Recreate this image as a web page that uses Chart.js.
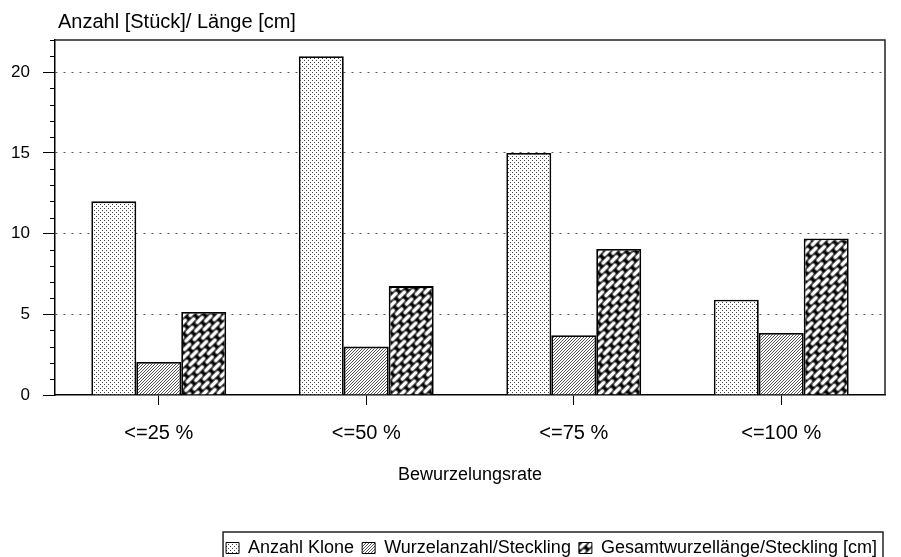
<!DOCTYPE html>
<html>
<head>
<meta charset="utf-8">
<script src="https://cdn.jsdelivr.net/npm/chart.js@4"></script>
<style>
  html, body { margin: 0; padding: 0; background: #fff; }
  #chart { display: block; }
</style>
</head>
<body>
<canvas id="chart" width="901" height="557"></canvas>
<script>
// --- DATA ---
const categories = ['<=25 %', '<=50 %', '<=75 %', '<=100 %'];
const seriesNames = ['Anzahl Klone', 'Wurzelanzahl/Steckling', 'Gesamtwurzellänge/Steckling [cm]'];
const anzahlKlone = [12, 21, 15, 5.9];
const wurzelanzahl = [2.05, 3.0, 3.7, 3.85];
const gesamtlaenge = [5.15, 6.75, 9.05, 9.7];
const yLabelStep = 5;
const yMax = 22;

const FONT = "'Liberation Sans', Arial, Helvetica, sans-serif";

// --- PATTERNS ---
function makePattern(w, h, drawTile, matrix) {
    const c = document.createElement('canvas');
    c.width = w; c.height = h;
    const g = c.getContext('2d');
    drawTile(g, w, h);
    const p = g.createPattern(c, 'repeat');
    if (matrix) p.setTransform(matrix);
    return p;
}

const dotFill = makePattern(4, 4, (g, w, h) => {
    g.fillStyle = '#fff';
    g.fillRect(0, 0, w, h);
    g.fillStyle = '#444';
    g.fillRect(0, 0, 1, 1);
    g.fillRect(2, 2, 1, 1);
});

const hatchFill = makePattern(3, 3, (g, w, h) => {
    g.fillStyle = '#fff';
    g.fillRect(0, 0, w, h);
    g.strokeStyle = '#555';
    g.lineWidth = 1;
    g.beginPath();
    for (const o of [-w, 0, w]) {
        g.moveTo(-1 + o, h + 1); g.lineTo(w + 1 + o, -1);
    }
    g.stroke();
});

// brick-laid capsules, turned 45 degrees -> chain / weave look
const weaveFill = makePattern(14, 10, (g, w, h) => {
    g.fillStyle = '#000';
    g.fillRect(0, 0, w, h);
    g.lineCap = 'round';
    const links = [[2.5, 2.5, 9.5], [9.5, 7.5, 16.5], [-4.5, 7.5, 2.5]];
    for (const [lw, col] of [[4.6, '#777'], [3.0, '#fff']]) {
        g.strokeStyle = col;
        g.lineWidth = lw;
        g.beginPath();
        for (const [x0, y, x1] of links) {
            for (const oy of [-h, 0, h]) {
                g.moveTo(x0, y + oy); g.lineTo(x1, y + oy);
            }
        }
        g.stroke();
    }
}, new DOMMatrix().rotateSelf(-45));

const fills = [dotFill, hatchFill, weaveFill];

// --- EXTRA DRAWING: frame, minor ticks, y caption, legend border ---
const decorPlugin = {
    id: 'decor',
    afterDraw(chart) {
        const { ctx, chartArea: a, scales } = chart;
        ctx.save();
        // frame top + right
        ctx.strokeStyle = '#222';
        ctx.lineWidth = 1.5;
        ctx.beginPath();
        ctx.moveTo(a.left, a.top); ctx.lineTo(a.right, a.top); ctx.lineTo(a.right, a.bottom);
        ctx.stroke();
        // minor ticks on y axis
        ctx.lineWidth = 1;
        ctx.strokeStyle = '#000';
        ctx.beginPath();
        for (let v = 1; v <= yMax; v++) {
            if (v % yLabelStep === 0) continue;
            const y = Math.round(scales.y.getPixelForValue(v)) + 0.5;
            ctx.moveTo(a.left - 5, y); ctx.lineTo(a.left, y);
        }
        ctx.stroke();
        // y caption
        ctx.fillStyle = '#000';
        ctx.font = '20px ' + FONT;
        ctx.textBaseline = 'alphabetic';
        ctx.fillText('Anzahl [Stück]/ Länge [cm]', 58, 28);
        // legend border
        const boxes = chart.legend.legendHitBoxes;
        if (boxes && boxes.length) {
            const first = boxes[0], last = boxes[boxes.length - 1];
            ctx.lineWidth = 1.5;
            ctx.strokeStyle = '#222';
            ctx.strokeRect(first.left - 3, first.top - 7, last.left + last.width - first.left + 9, chart.height);
        }
        ctx.restore();
    }
};

new Chart(document.getElementById('chart'), {
    type: 'bar',
    data: {
        labels: categories,
        datasets: [
            { label: seriesNames[0], data: anzahlKlone, backgroundColor: fills[0] },
            { label: seriesNames[1], data: wurzelanzahl, backgroundColor: fills[1] },
            { label: seriesNames[2], data: gesamtlaenge, backgroundColor: fills[2] }
        ].map(d => Object.assign(d, {
            borderColor: '#000',
            borderWidth: 1.8,
            categoryPercentage: 0.65,
            barPercentage: 1
        }))
    },
    options: {
        responsive: false,
        animation: false,
        devicePixelRatio: 1,
        layout: { padding: { top: 40, right: 16, left: 0, bottom: -10 } },
        plugins: {
            tooltip: { enabled: false },
            title: { display: false },
            legend: {
                position: 'bottom',
                align: 'end',
                labels: {
                    color: '#000',
                    font: { family: FONT, size: 18 },
                    boxWidth: 13,
                    boxHeight: 11,
                    padding: 8,
                    generateLabels(chart) {
                        return chart.data.datasets.map((d, i) => ({
                            text: d.label,
                            fillStyle: fills[i],
                            strokeStyle: '#000',
                            lineWidth: 1,
                            datasetIndex: i,
                            fontColor: '#000'
                        }));
                    }
                }
            }
        },
        scales: {
            x: {
                offset: true,
                afterFit(scale) { scale.height = 136; },
                grid: {
                    offset: false,
                    drawOnChartArea: false,
                    tickLength: 10,
                    tickColor: '#000',
                    tickWidth: 1
                },
                border: { color: '#000', width: 1.5 },
                ticks: { color: '#000', font: { family: FONT, size: 20 }, padding: 16 },
                title: {
                    display: true,
                    text: 'Bewurzelungsrate',
                    color: '#000',
                    font: { family: FONT, size: 18 },
                    padding: { top: 20, bottom: 45 }
                }
            },
            y: {
                min: 0,
                max: yMax,
                afterFit(scale) { scale.width = 55; },
                ticks: {
                    stepSize: 1,
                    autoSkip: false,
                    color: '#000',
                    font: { family: FONT, size: 17 },
                    padding: 13,
                    callback: v => (v % yLabelStep === 0 ? String(v) : '')
                },
                grid: {
                    tickLength: 12,
                    color: c => (c.tick && c.tick.value % yLabelStep === 0 && c.tick.value > 0) ? '#555' : 'transparent',
                    tickColor: c => (c.tick && c.tick.value % yLabelStep === 0) ? '#000' : 'transparent',
                    tickBorderDash: [],
                    lineWidth: 1
                },
                border: { color: '#000', width: 1.5, dash: [2, 6] }
            }
        }
    },
    plugins: [decorPlugin]
});
</script>
</body>
</html>
